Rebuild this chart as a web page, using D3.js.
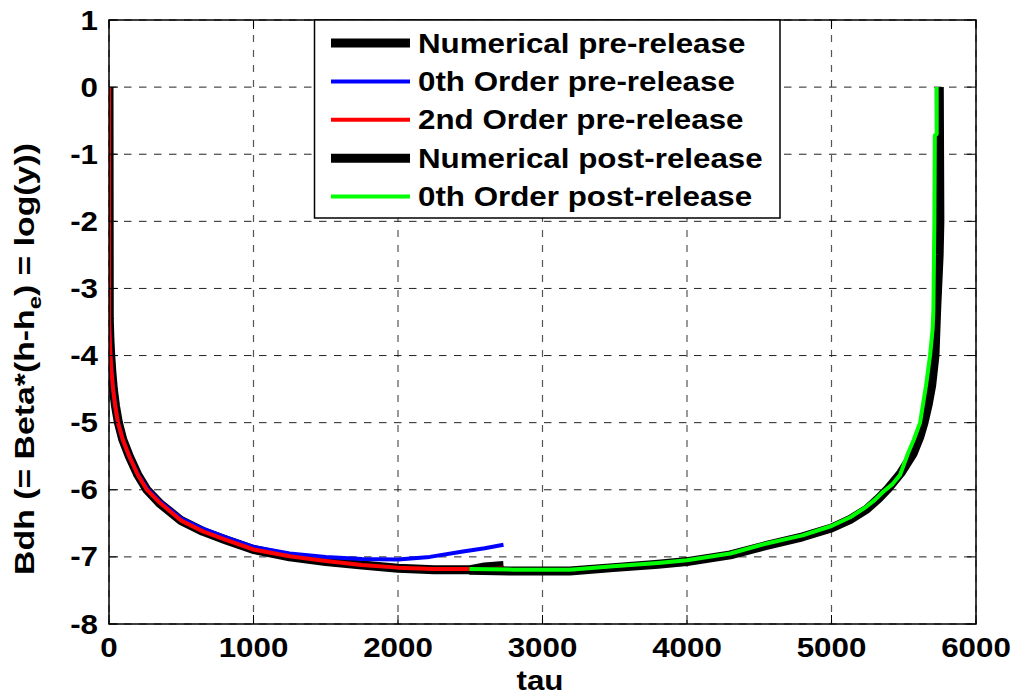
<!DOCTYPE html>
<html><head><meta charset="utf-8">
<script src="https://cdn.jsdelivr.net/npm/d3@7"></script>
<style>
html,body{margin:0;padding:0;background:#fff;}
svg text{font-family:"Liberation Sans",Arial,Helvetica,sans-serif;font-weight:bold;fill:#000;}
</style></head>
<body>
<svg id="chart" width="1016" height="696"></svg>
<script>
// ---- data ----
const xTicks = [0,1000,2000,3000,4000,5000,6000];
const yTicks = [1,0,-1,-2,-3,-4,-5,-6,-7,-8];
const seriesNames = ["Numerical pre-release","0th Order pre-release","2nd Order pre-release","Numerical post-release","0th Order post-release"];
const seriesColors = ["#000000","#0000ff","#ff0000","#000000","#00ff00"];
const seriesWidths = [9,4,4,9,4];

const numPreTau = [0,2,6,12,20,30,45,65,95,140,200,262,350,500,650,800,1000,1250,1500,1750,2000,2250,2500,2600,2730];
const numPreY   = [0,-3.45,-3.75,-4.0,-4.25,-4.5,-4.75,-5.0,-5.25,-5.5,-5.78,-6.0,-6.2,-6.46,-6.62,-6.74,-6.89,-7.0,-7.07,-7.12,-7.17,-7.19,-7.19,-7.15,-7.13];

const zeroPreTau = [0,3,10,18,28,43,62,95,140,200,262,350,500,650,800,1000,1250,1500,1750,2000,2220,2450,2600,2730];
const zeroPreY   = [-3.5,-3.65,-4.0,-4.25,-4.5,-4.75,-5.0,-5.25,-5.5,-5.77,-5.98,-6.17,-6.43,-6.58,-6.7,-6.85,-6.95,-7.0,-7.03,-7.04,-7.0,-6.92,-6.87,-6.82];

const secondPreTau = [0,0,3,10,18,28,43,62,95,140,200,262,350,500,650,800,1000,1250,1500,1750,2000,2250,2500,2730];
const secondPreY   = [0,-3.47,-3.65,-4.0,-4.25,-4.5,-4.75,-5.0,-5.25,-5.5,-5.78,-6.0,-6.19,-6.46,-6.62,-6.74,-6.89,-6.99,-7.06,-7.12,-7.16,-7.18,-7.18,-7.16];

const numPostTau = [2494,2800,3190,3488,3800,4000,4300,4551,4800,5000,5130,5243,5330,5393,5480,5565,5610,5640,5670,5693,5716,5728,5745,5750,5748,5746];
const numPostY   = [-7.2,-7.21,-7.21,-7.16,-7.11,-7.07,-6.97,-6.83,-6.7,-6.57,-6.44,-6.29,-6.12,-5.98,-5.75,-5.46,-5.22,-5.0,-4.72,-4.45,-4.0,-3.3,-2.5,-2.0,-1.0,0];

const zeroPostTau = [2494,2800,3190,3488,3800,4000,4300,4551,4800,5000,5130,5243,5300,5358,5420,5474,5529,5570,5613,5654,5682,5700,5705,5712,5715,5728,5728];
const zeroPostY   = [-7.18,-7.19,-7.19,-7.14,-7.09,-7.05,-6.95,-6.8,-6.68,-6.54,-6.41,-6.25,-6.15,-6.03,-5.92,-5.78,-5.46,-5.25,-5.0,-4.45,-4.0,-3.6,-3.33,-2.0,-0.72,-0.7,0];

const xLabel = "tau";
const yLabelParts = ["Bdh (= Beta*(h-h", "e", ") = log(y))"];

// ---- layout ----
const L = 109, R = 976, T = 20, B = 624;
const SX = 1.16;   // horizontal stretch of the original picture's text
const FS = 27;

const svg = d3.select("#chart");
const x = d3.scaleLinear().domain([0,6000]).range([L,R]);
const y = d3.scaleLinear().domain([-8,1]).range([B,T]);

function stretch(sel){
  sel.each(function(){
    const w = this.getComputedTextLength();
    d3.select(this).attr("textLength", w*SX).attr("lengthAdjust","spacingAndGlyphs");
  });
}

// clip
svg.append("clipPath").attr("id","clip").append("rect")
  .attr("x",L).attr("y",T).attr("width",R-L).attr("height",B-T);

// grid
const grid = svg.append("g");
grid.selectAll("line.vx").data(xTicks).join("line")
  .attr("x1",d=>x(d)).attr("x2",d=>x(d)).attr("y1",T).attr("y2",B)
  .attr("stroke","#555").attr("stroke-width",1.2).attr("stroke-dasharray","7,8");
grid.selectAll("line.hy").data(yTicks).join("line")
  .attr("y1",d=>y(d)).attr("y2",d=>y(d)).attr("x1",L).attr("x2",R)
  .attr("stroke","#222").attr("stroke-width",1).attr("stroke-dasharray","7.5,7.5");

// series
const series = [
  {t:numPreTau, v:numPreY},
  {t:zeroPreTau, v:zeroPreY},
  {t:secondPreTau, v:secondPreY},
  {t:numPostTau, v:numPostY},
  {t:zeroPostTau, v:zeroPostY}
];
const line = d3.line().x(d=>x(d[0])).y(d=>y(d[1])).curve(d3.curveLinear);
const plot = svg.append("g").attr("clip-path","url(#clip)");
series.forEach((s,i)=>{
  const pts = s.t.map((t,j)=>[t,s.v[j]]);
  plot.append("path").datum(pts).attr("d",line)
    .attr("fill","none").attr("stroke",seriesColors[i])
    .attr("stroke-width",seriesWidths[i])
    .attr("stroke-linejoin","round").attr("stroke-linecap","butt");
});

// ticks (inward, all four sides)
const tk = svg.append("g").attr("stroke","#000").attr("stroke-width",1);
xTicks.forEach(d=>{
  tk.append("line").attr("x1",x(d)).attr("x2",x(d)).attr("y1",B).attr("y2",B-9);
  tk.append("line").attr("x1",x(d)).attr("x2",x(d)).attr("y1",T).attr("y2",T+9);
});
yTicks.forEach(d=>{
  tk.append("line").attr("y1",y(d)).attr("y2",y(d)).attr("x1",L).attr("x2",L+9);
  tk.append("line").attr("y1",y(d)).attr("y2",y(d)).attr("x1",R).attr("x2",R-9);
});

// frame
svg.append("rect").attr("x",L).attr("y",T).attr("width",R-L).attr("height",B-T)
  .attr("fill","none").attr("stroke","#000").attr("stroke-width",1.5);

// tick labels
svg.append("g").selectAll("text").data(xTicks).join("text")
  .attr("x",d=>x(d)).attr("y",657).attr("text-anchor","middle")
  .attr("font-size",FS).text(d=>d).call(stretch);
svg.append("g").selectAll("text").data(yTicks).join("text")
  .attr("x",98).attr("y",d=>y(d)+9.5).attr("text-anchor","end")
  .attr("font-size",FS).text(d=>d).call(stretch);

// axis titles
svg.append("text").attr("x",540).attr("y",690).attr("text-anchor","middle")
  .attr("font-size",FS).text(xLabel).call(stretch);

const yt = svg.append("text").attr("text-anchor","middle").attr("font-size",FS);
yt.append("tspan").text(yLabelParts[0]);
yt.append("tspan").attr("font-size",19).attr("dy",7).text(yLabelParts[1]);
yt.append("tspan").attr("dy",-7).text(yLabelParts[2]);
const ytw = yt.node().getBBox().width;
yt.attr("transform",`translate(33.5,359) rotate(-90) scale(${432/ytw},1)`);

// legend
const lg = svg.append("g");
lg.append("rect").attr("x",314.5).attr("y",20).attr("width",465.5).attr("height",198)
  .attr("fill","#fff").attr("stroke","#000").attr("stroke-width",1.5);
const rowY = d3.scaleLinear().domain([0,4]).range([43,196.5]);
seriesNames.forEach((n,i)=>{
  lg.append("line").attr("x1",331).attr("x2",410).attr("y1",rowY(i)).attr("y2",rowY(i))
    .attr("stroke",seriesColors[i]).attr("stroke-width",seriesWidths[i]);
  lg.append("text").attr("x",418).attr("y",rowY(i)+9.5).attr("font-size",FS).text(n).call(stretch);
});
</script>
</body></html>
